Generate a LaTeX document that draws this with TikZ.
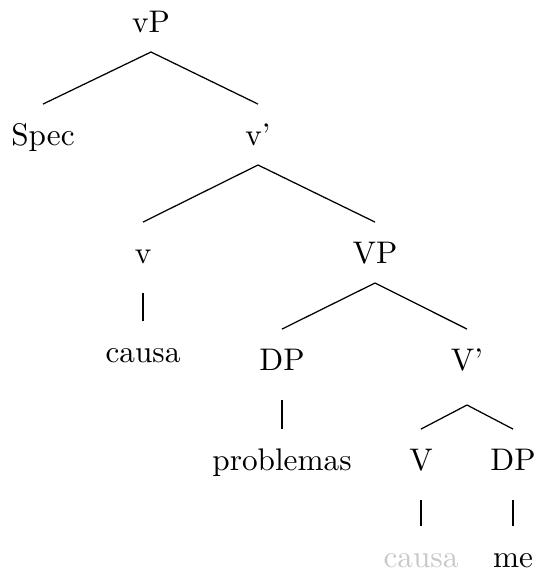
\documentclass[tikz,border=0pt]{standalone}
\usepackage{tikz}
\usepackage{xcolor}
\usetikzlibrary{positioning}
\definecolor{tracegray}{HTML}{C8C8C8}

\begin{document}
\begin{tikzpicture}[x=0.32pt, y=-0.32pt,
    lab/.style={anchor=base, inner sep=0pt, text height=9.1pt, text depth=2.4pt, outer ysep=4pt},
    br/.style={line width=0.4pt}]
    \useasboundingbox (0,0) rectangle (537,576);
    % labels
    \node[lab] (vP) at (151,32) {vP};
    \node[lab] (spec) at (43,145) {Spec};
    \node[lab] (vbar) at (258,145) {v'};
    \node[lab] (v) at (143,263) {v};
    \node[lab] (VP) at (375,263) {VP};
    \node[lab] (causa1) at (143,362) {causa};
    \node[lab] (DP1) at (282,370) {DP};
    \node[lab] (Vbar) at (467,370) {V'};
    \node[lab] (probl) at (282,470) {problemas};
    \node[lab] (V) at (421,470) {V};
    \node[lab] (DP2) at (513,470) {DP};
    \node[lab, text=tracegray] (causa2) at (421,567) {causa};
    \node[lab] (me) at (513,567) {me};
    % branches
    \draw[br] (vP.south)--(spec.north);
    \draw[br] (vP.south)--(vbar.north);
    \draw[br] (vbar.south)--(v.north);
    \draw[br] (vbar.south)--(VP.north);
    \draw[br] ([yshift=-3.2pt]v.south)--(causa1.north);
    \draw[br] (VP.south)--(DP1.north);
    \draw[br] (VP.south)--(Vbar.north);
    \draw[br] ([yshift=-3.2pt]DP1.south)--(probl.north);
    \draw[br] ([yshift=-4.8pt]Vbar.south)--(V.north);
    \draw[br] ([yshift=-4.8pt]Vbar.south)--(DP2.north);
    \draw[br] ([yshift=-3.2pt]V.south)--(causa2.north);
    \draw[br] ([yshift=-3.2pt]DP2.south)--(me.north);
\end{tikzpicture}
\end{document}
